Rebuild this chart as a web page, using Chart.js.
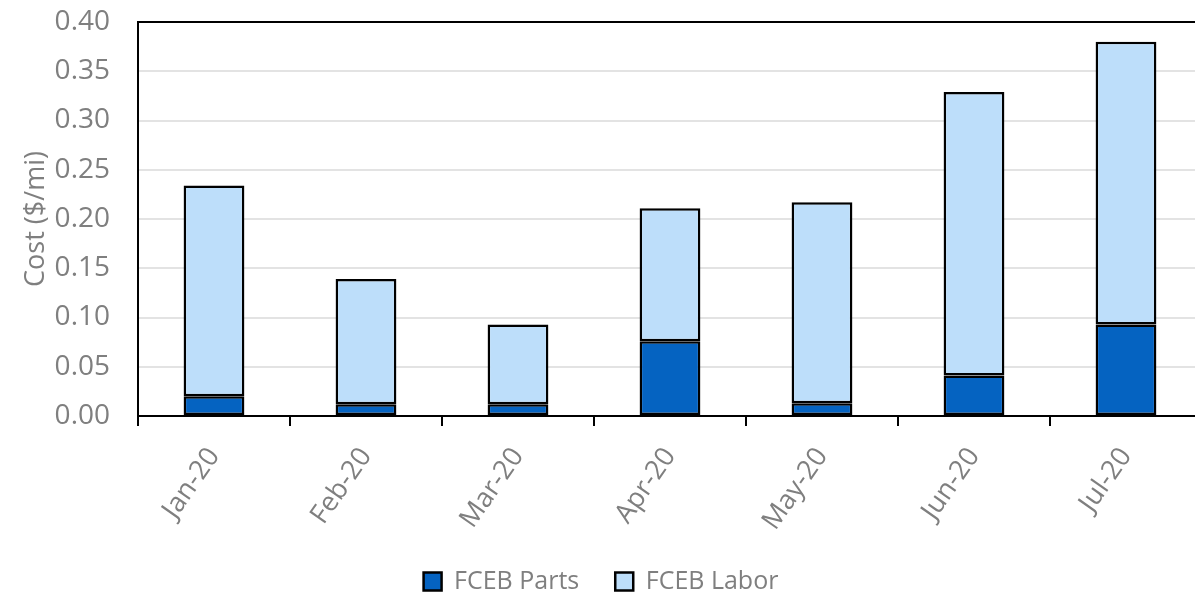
<!DOCTYPE html>
<html>
<head>
<meta charset="utf-8">
<script src="https://cdn.jsdelivr.net/npm/chart.js"></script>
<style>
  body { margin: 0; background: #fff; overflow: hidden; }
  /* plot area runs a few px past the right edge, like the original */
  #wrap { width: 1202px; height: 595px; }
</style>
</head>
<body>
<div id="wrap"><canvas id="costChart"></canvas></div>
<script>
// monthly FCEB maintenance cost, $/mi
const months = ["Jan-20", "Feb-20", "Mar-20", "Apr-20", "May-20", "Jun-20", "Jul-20"];
const partsCost = [0.020, 0.012, 0.012, 0.076, 0.013, 0.041, 0.093];
const laborCost = [0.214, 0.127, 0.081, 0.135, 0.204, 0.288, 0.287];
const yTicks = [0, 0.05, 0.10, 0.15, 0.20, 0.25, 0.30, 0.35, 0.40];

const grey = "#7f7f7f";
const fontFamily = "'Open Sans', sans-serif";

document.addEventListener("DOMContentLoaded", function() {

    new Chart("costChart", {
        type: "bar",
        data: {
            labels: months,
            datasets: [{
                label: "FCEB Parts",
                data: partsCost,
                backgroundColor: "#0563c1",
                borderColor: "#000",
                borderWidth: 2.5,
                borderSkipped: false
            }, {
                label: "FCEB Labor",
                data: laborCost,
                backgroundColor: "#bddefa",
                borderColor: "#000",
                borderWidth: 2.5,
                borderSkipped: false
            }]
        },
        options: {
            responsive: true,
            maintainAspectRatio: false,
            animation: false,
            datasets: {
                bar: {
                    barPercentage: 0.4,
                    categoryPercentage: 1.0
                }
            },
            layout: {
                padding: { top: 22, right: 0, left: 0, bottom: -9 }
            },
            plugins: {
                legend: {
                    position: "bottom",
                    labels: {
                        color: grey,
                        boxWidth: 18,
                        boxHeight: 18,
                        padding: 36,
                        font: { family: fontFamily, size: 25 }
                    }
                },
                tooltip: { enabled: false }
            },
            scales: {
                x: {
                    stacked: true,
                    border: { color: "#000", width: 2 },
                    grid: {
                        offset: true,
                        drawOnChartArea: false,
                        color: "#000",
                        lineWidth: 2,
                        tickLength: 10
                    },
                    ticks: {
                        color: grey,
                        minRotation: 55,
                        maxRotation: 55,
                        padding: 16,
                        font: { family: fontFamily, size: 27 }
                    },
                    afterFit: function(scale) {
                        scale.height = 117;
                        scale.paddingRight = 0;
                    }
                },
                y: {
                    stacked: true,
                    min: 0,
                    max: 0.40,
                    afterBuildTicks: function(scale) {
                        scale.ticks = yTicks.map(v => ({ value: v }));
                    },
                    border: { color: "#000", width: 2 },
                    grid: {
                        drawTicks: false,
                        lineWidth: 2,
                        color: function(ctx) {
                            return ctx.tick && ctx.tick.value === 0.4 ? "#000" : "#e3e3e3";
                        }
                    },
                    ticks: {
                        color: grey,
                        padding: 28,
                        font: { family: fontFamily, size: 28 },
                        callback: function(value) {
                            return Number(value).toFixed(2);
                        }
                    },
                    title: {
                        display: true,
                        text: "Cost ($/mi)",
                        color: grey,
                        padding: { top: 20, bottom: 0 },
                        font: { family: fontFamily, size: 27 }
                    },
                    afterFit: function(scale) {
                        scale.width = 138;
                        // tick padding would otherwise push the plot area down
                        scale.paddingTop = 0;
                        scale.paddingBottom = 0;
                    }
                }
            }
        }
    });

});
</script>
</body>
</html>
